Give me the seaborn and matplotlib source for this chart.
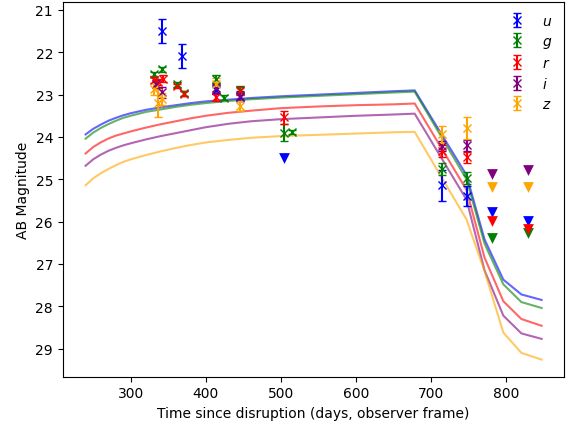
"""
TDE light curve: multi-band photometry with model curves
- errorbar points per band
- upper limits (triangles)
- model light curves
"""

import numpy as np
import matplotlib
matplotlib.use('Agg')
import matplotlib.pyplot as plt
import seaborn as sns

# bands
BANDS = ['u', 'g', 'r', 'i', 'z']
COLORS = {'u': 'blue', 'g': 'green', 'r': 'red', 'i': 'purple', 'z': 'orange'}

# model curves (days, AB mag)
model_t = [240, 250, 260, 270, 280, 290, 300, 320, 340, 360, 380, 400, 430, 460,
           500, 550, 600, 650, 678, 747, 771, 796, 820, 847]
model_u = [23.94, 23.81, 23.71, 23.62, 23.55, 23.49, 23.44, 23.36, 23.30, 23.25,
           23.20, 23.16, 23.12, 23.08, 23.04, 23.00, 22.96, 22.92, 22.90,
           24.90, 26.42, 27.37, 27.72, 27.85]
model_g = [24.04, 23.90, 23.79, 23.70, 23.62, 23.55, 23.50, 23.41, 23.35, 23.29,
           23.24, 23.20, 23.15, 23.11, 23.07, 23.03, 22.99, 22.95, 22.93,
           25.00, 26.52, 27.48, 27.90, 28.04]
model_r = [24.39, 24.24, 24.13, 24.04, 23.97, 23.92, 23.87, 23.78, 23.70, 23.63,
           23.56, 23.50, 23.43, 23.38, 23.32, 23.28, 23.25, 23.23, 23.21,
           25.25, 26.85, 27.88, 28.30, 28.46]
model_i = [24.68, 24.53, 24.42, 24.33, 24.26, 24.20, 24.15, 24.06, 23.98, 23.91,
           23.84, 23.77, 23.69, 23.63, 23.58, 23.54, 23.50, 23.47, 23.45,
           25.48, 27.15, 28.22, 28.64, 28.77]
model_z = [25.14, 24.98, 24.86, 24.76, 24.67, 24.59, 24.53, 24.43, 24.34, 24.26,
           24.19, 24.13, 24.07, 24.02, 23.98, 23.95, 23.92, 23.89, 23.88,
           25.95, 27.17, 28.62, 29.10, 29.26]

# detections
u_t = [342, 368, 413, 446, 715, 747]
u_m = [21.50, 22.09, 22.88, 23.05, 25.14, 25.40]
u_e = [0.29, 0.29, 0.10, 0.10, 0.37, 0.24]

g_t = [331, 342, 362, 371, 413, 424, 446, 504, 515, 715, 747]
g_m = [22.52, 22.40, 22.76, 22.97, 22.64, 23.07, 22.88, 23.90, 23.88, 24.76, 24.97]
g_e = [0.06, 0.06, 0.06, 0.06, 0.10, 0.05, 0.08, 0.20, 0.05, 0.15, 0.15]

r_t = [331, 337, 343, 362, 371, 413, 446, 504, 715, 747]
r_m = [22.65, 22.70, 22.62, 22.79, 22.98, 23.05, 22.92, 23.54, 24.33, 24.48]
r_e = [0.08, 0.08, 0.08, 0.05, 0.06, 0.10, 0.10, 0.15, 0.15, 0.13]

i_t = [334, 342, 413, 446, 715, 747]
i_m = [22.75, 22.95, 22.85, 23.04, 24.22, 24.20]
i_e = [0.10, 0.12, 0.12, 0.12, 0.12, 0.13]

z_t = [331, 337, 342, 413, 446, 715, 747]
z_m = [22.87, 23.19, 23.11, 22.76, 23.26, 23.94, 23.80]
z_e = [0.15, 0.33, 0.14, 0.15, 0.12, 0.20, 0.26]

# upper limits
u_lim_t = [504, 781, 829]
u_lim_m = [24.50, 25.78, 25.99]
g_lim_t = [781, 829]
g_lim_m = [26.38, 26.28]
r_lim_t = [781, 829]
r_lim_m = [25.99, 26.17]
i_lim_t = [781, 829]
i_lim_m = [24.88, 24.77]
z_lim_t = [781, 829]
z_lim_m = [25.18, 25.18]


def main():
    models = {'u': model_u, 'g': model_g, 'r': model_r, 'i': model_i, 'z': model_z}
    detections = {
        'u': (u_t, u_m, u_e),
        'g': (g_t, g_m, g_e),
        'r': (r_t, r_m, r_e),
        'i': (i_t, i_m, i_e),
        'z': (z_t, z_m, z_e),
    }
    limits = {
        'u': (u_lim_t, u_lim_m),
        'g': (g_lim_t, g_lim_m),
        'r': (r_lim_t, r_lim_m),
        'i': (i_lim_t, i_lim_m),
        'z': (z_lim_t, z_lim_m),
    }

    fig = plt.figure(figsize=(5.71, 4.27), dpi=100)
    ax = fig.add_axes([0.110, 0.1155, 0.8785, 0.878])

    # model lines first
    for b in BANDS:
        sns.lineplot(x=model_t, y=models[b], color=COLORS[b], alpha=0.6,
                     linewidth=1.5, ax=ax, legend=False, sort=False)

    # detections + upper limits
    for b in BANDS:
        t, m, e = detections[b]
        ax.errorbar(t, m, yerr=e, fmt='x', color=COLORS[b], capsize=3,
                    label=f'${b}$')
        lt, lm = limits[b]
        sns.scatterplot(x=lt, y=lm, marker='v', color=COLORS[b], s=60,
                        linewidth=0, ax=ax, legend=False)

    ax.invert_yaxis()
    ax.set_xlabel('Time since disruption (days, observer frame)')
    ax.set_ylabel('AB Magnitude')
    ax.legend(loc='upper right', frameon=False, labelspacing=0.42)

    plt.savefig('out.png', dpi=100)
    plt.close()


if __name__ == "__main__":
    main()
